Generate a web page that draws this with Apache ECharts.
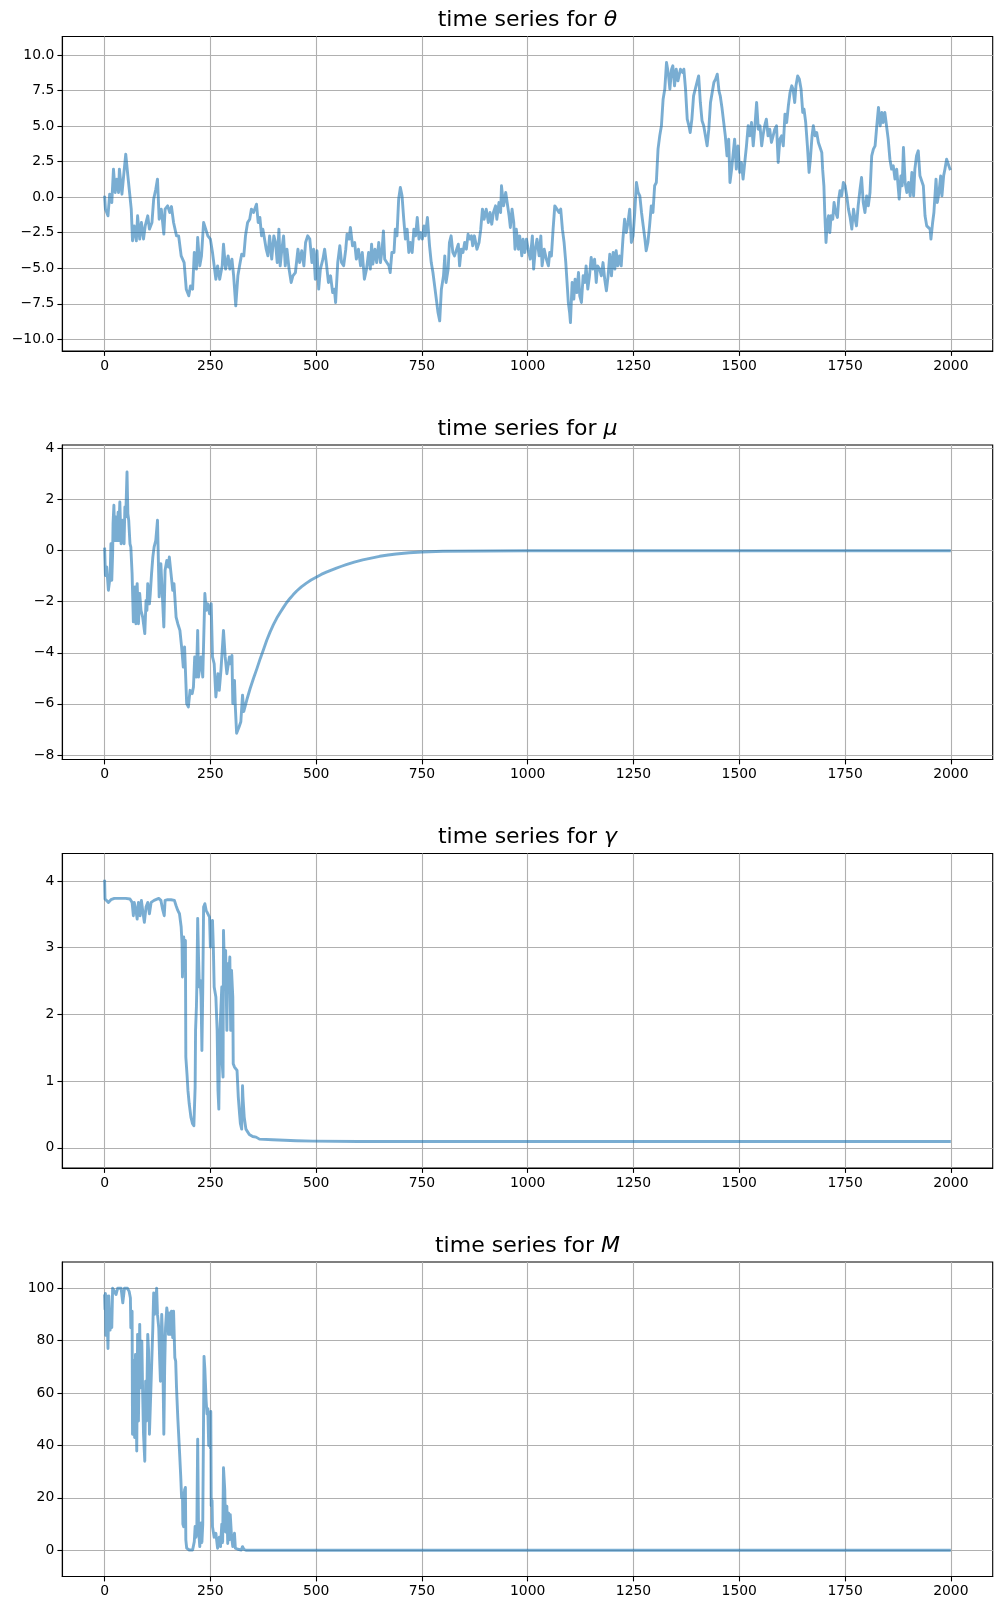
<!DOCTYPE html>
<html>
<head>
<meta charset="utf-8">
<script src="https://cdn.jsdelivr.net/npm/echarts@6/dist/echarts.min.js"></script>
<style>
html,body{margin:0;padding:0;background:#fff;}
#chart{width:1002px;height:1610px;}
</style>
</head>
<body>
<div id="chart"></div>
<script>
// ---------- data (time step, value) ----------
const theta = [[0,0.1],[2,-0.84],[8,-1.31],[12,0.21],[17,-0.38],[21,1.97],[25,0.33],[29,1.27],[33,0.33],[35,1.97],[41,0.21],[45,1.5],[50,3.02],[55,1.5],[59,0.33],[63,-0.84],[66,-3.07],[70,-2.02],[75,-3.07],[78,-1.31],[83,-2.95],[87,-1.78],[92,-2.95],[96,-2.02],[102,-1.31],[106,-2.25],[112,-1.78],[116,-0.14],[121,0.56],[125,1.27],[129,-1.55],[134,-0.84],[140,-2.6],[143,-0.84],[149,-0.61],[154,-1.08],[158,-0.66],[163,-1.78],[170,-2.72],[175,-2.72],[181,-4.13],[188,-4.6],[193,-6.47],[199,-6.94],[203,-6.24],[208,-6.47],[212,-3.89],[217,-5.06],[220,-2.84],[225,-4.83],[229,-4.13],[234,-1.78],[239,-2.25],[244,-2.72],[250,-2.95],[255,-3.89],[259,-4.83],[263,-5.77],[267,-4.83],[272,-5.77],[278,-4.83],[281,-3.31],[286,-5.06],[292,-4.13],[296,-5.06],[301,-4.36],[305,-5.53],[310,-7.64],[315,-5.53],[319,-4.83],[324,-4.01],[329,-4.13],[333,-2.72],[338,-1.78],[343,-1.55],[347,-0.84],[352,-1.08],[359,-0.49],[363,-1.78],[367,-1.43],[371,-2.72],[374,-2.25],[378,-2.95],[382,-3.66],[386,-4.13],[390,-2.72],[395,-4.36],[400,-2.72],[404,-3.19],[408,-4.6],[412,-2.25],[415,-4.83],[419,-3.66],[423,-2.72],[427,-4.83],[431,-3.66],[436,-5.06],[441,-6.0],[445,-5.53],[451,-5.3],[457,-3.66],[461,-4.6],[466,-3.77],[471,-4.83],[475,-3.19],[480,-2.72],[485,-2.95],[490,-4.6],[494,-3.66],[498,-5.77],[502,-3.77],[506,-6.47],[510,-5.06],[516,-4.36],[520,-3.66],[524,-4.6],[529,-6.0],[534,-5.53],[539,-6.71],[543,-6.47],[546,-7.41],[551,-4.6],[556,-3.42],[560,-4.6],[565,-4.83],[570,-3.66],[573,-2.6],[578,-2.95],[581,-2.13],[586,-3.42],[591,-3.19],[595,-4.36],[600,-3.66],[605,-4.83],[609,-3.89],[614,-5.77],[619,-5.06],[624,-3.89],[628,-5.06],
[631,-3.31],[634,-4.71],[639,-3.66],[643,-4.6],[648,-3.19],[652,-4.6],[656,-3.66],[659,-2.37],[662,-4.36],[667,-4.6],[672,-4.83],[675,-5.3],[679,-3.89],[684,-3.89],[687,-2.25],[691,-2.72],[695,-0.14],[699,0.68],[703,0.09],[707,-1.55],[711,-2.95],[715,-2.25],[719,-3.89],[723,-3.19],[727,-3.89],[731,-2.25],[735,-2.72],[739,-1.43],[743,-2.95],[747,-2.49],[751,-2.95],[755,-2.02],[758,-2.72],[763,-1.43],[768,-3.42],[772,-4.6],[776,-5.3],[781,-6.47],[785,-7.41],[788,-8.11],[792,-8.7],[796,-6.47],[801,-5.53],[804,-4.13],[807,-6.0],[812,-5.06],[815,-3.19],[819,-2.72],[823,-3.89],[827,-4.13],[831,-4.13],[836,-3.31],[839,-4.83],[843,-3.66],[847,-3.89],[851,-3.19],[855,-3.66],[859,-2.6],[863,-2.95],[867,-2.72],[870,-3.42],[874,-2.72],[880,-3.66],[885,-3.19],[889,-2.25],[893,-0.84],[897,-1.55],[902,-0.84],[907,-1.78],[911,-1.08],[915,-1.9],[919,-1.08],[924,-0.61],[927,-1.55],[932,-0.38],[936,-1.08],[938,0.8],[943,-0.61],[948,0.33],[952,0.33],[956,-1.31],[959,-2.13],[963,-0.84],[967,-1.78],[970,-3.66],[973,-2.25],[978,-3.66],[981,-2.72],[986,-4.13],[989,-2.95],[993,-3.89],[997,-2.95],[1001,-3.66],[1006,-4.36],[1011,-2.72],[1014,-5.06],[1018,-3.66],[1022,-2.95],[1027,-4.13],[1031,-2.72],[1034,-4.83],[1039,-3.66],[1044,-4.36],[1049,-4.83],[1052,-3.89],[1056,-4.13],[1060,-2.25],[1064,-0.61],[1069,-0.84],[1074,-1.08],[1078,-0.84],[1082,-2.25],[1086,-3.19],[1090,-4.6],[1093,-6.0],[1096,-7.41],[1099,-8.11],[1101,-8.82],[1105,-6.0],[1109,-7.17],[1112,-5.77],[1116,-6.71],[1120,-5.3],[1123,-6.94],[1127,-7.41],[1131,-5.53],[1135,-6.0],[1138,-4.83],[1142,-6.47],[1146,-5.53],[1150,-4.24],[1154,-5.06],[1158,-4.36],[1162,-6.0],[1165,-4.83],[1170,-5.06],[1174,-5.53],[1178,-4.6],[1182,-5.77],[1186,-6.59],[1190,-5.53],[1194,-4.01],[1198,-5.53],[1202,-3.89],[1206,-5.06],[1209,-3.77],[1213,-4.83],[1217,-4.13],[1221,-4.83],[1225,-2.95],[1229,-1.55],[1233,-2.49],[1237,-1.78],[1241,-0.84],[1245,-3.19],[1249,-2.72],[1253,-1.08],[1257,1.03],[1261,0.33],[1265,0.09],[1269,-1.08],[1273,-2.02],[1277,-2.95],[1280,-3.77],[1284,-3.19],[1288,-2.02],[1292,-0.61],[1296,-1.08],[1300,0.8],[1304,1.03],[1308,3.38],[1312,4.31],[1316,5.02],[1320,6.89],[1324,7.6],[1328,9.47],[1332,8.77],[1336,7.6],
[1340,9.0],[1343,9.24],[1347,7.83],[1351,9.0],[1355,8.18],[1361,9.0],[1366,8.77],[1369,9.0],[1373,7.6],[1377,5.49],[1381,5.02],[1384,4.55],[1388,5.49],[1392,7.13],[1396,7.25],[1400,8.07],[1404,8.53],[1408,6.66],[1412,5.37],[1416,5.02],[1420,4.31],[1424,3.61],[1428,4.78],[1432,6.66],[1436,6.66],[1440,8.07],[1444,8.3],[1448,8.65],[1452,7.48],[1455,7.13],[1459,6.31],[1463,6.19],[1467,4.31],[1471,2.91],[1475,4.08],[1478,1.03],[1482,1.97],[1485,2.91],[1489,4.08],[1493,1.97],[1497,3.61],[1501,1.74],[1505,2.44],[1509,1.27],[1513,2.44],[1517,3.61],[1521,5.02],[1525,4.31],[1529,5.25],[1533,3.61],[1537,5.02],[1541,6.66],[1545,4.78],[1549,5.02],[1553,3.61],[1556,4.31],[1560,5.02],[1564,5.49],[1568,4.31],[1572,4.78],[1576,3.85],[1580,4.31],[1584,4.78],[1588,5.02],[1592,2.44],[1596,4.08],[1600,4.31],[1604,3.61],[1608,5.84],[1612,5.25],[1616,6.42],[1620,7.36],[1624,7.83],[1627,7.6],[1631,6.66],[1634,7.83],[1638,8.53],[1642,8.3],[1646,7.6],[1650,5.96],[1653,6.19],[1657,5.25],[1661,3.61],[1665,1.74],[1668,2.67],[1672,4.31],[1675,5.02],[1679,4.31],[1683,4.55],[1687,3.85],[1691,3.85],[1695,3.14],[1697,1.97],[1700,0.8],[1702,-1.08],[1705,-3.19],[1708,-1.78],[1711,-1.31],[1714,-2.49],[1717,-1.31],[1721,-1.55],[1724,-0.38],[1728,-1.08],[1732,-1.43],[1735,-0.14],[1738,0.45],[1742,0.09],[1746,1.03],[1750,0.8],[1754,0.09],[1758,-0.84],[1762,-1.43],[1766,-2.25],[1770,-0.84],[1773,-1.43],[1777,-2.02],[1781,-0.61],[1785,0.45],[1789,1.38],[1793,-0.38],[1797,-1.08],[1801,0.09],[1805,-0.61],[1809,0.33],[1813,2.91],[1817,3.38],[1821,3.61],[1825,5.02],[1829,6.31],[1833,5.02],[1837,5.96],[1840,5.25],[1844,5.96],[1848,5.02],[1852,4.08],[1856,2.67],[1860,1.97],[1864,2.2],[1868,1.27],[1872,1.97],[1876,0.56],[1878,-0.14],[1882,1.5],[1885,0.8],[1888,3.49],[1892,1.03],[1896,0.33],[1900,1.03],[1904,0.09],[1908,1.74],[1912,0.09],[1915,1.97],[1919,2.91],[1923,3.26],[1927,1.5],[1931,1.38],[1935,0.8],[1939,-1.31],[1943,-2.02],[1947,-2.02],[1951,-2.25],[1953,-2.95],[1957,-1.78],[1960,-1.08],[1965,1.27],[1968,-0.38],[1972,0.33],[1976,1.5],[1979,0.09],[1983,1.5],[1986,1.97],[1990,2.67],[1994,2.79],[1998,1.97],[1999,1.9]];

const mu = [[0,0.12],[2,-0.97],[5,-0.64],[9,-1.55],[13,-1.03],[15,0.27],[17,-1.16],[19,-0.12],[20,1.06],[22,1.78],[24,0.4],[27,1.32],[29,0.4],[32,1.51],[33,0.4],[36,1.91],[39,0.27],[43,1.19],[46,0.27],[48,1.71],[50,1.32],[53,3.08],[55,1.45],[57,1.19],[60,0.27],[62,0.14],[65,-0.9],[68,-2.79],[72,-1.42],[74,-2.86],[77,-1.29],[80,-2.86],[83,-1.68],[86,-2.34],[90,-2.6],[95,-3.25],[98,-1.95],[100,-2.34],[102,-1.29],[106,-2.08],[108,-1.68],[111,-0.9],[114,-0.25],[117,0.14],[121,0.4],[125,1.19],[129,-1.81],[133,-0.51],[140,-2.99],[143,-0.77],[147,-0.38],[151,-0.64],[153,-0.25],[157,-0.9],[161,-1.55],[164,-1.29],[169,-2.6],[173,-2.86],[178,-3.12],[182,-3.77],[186,-4.56],[189,-3.77],[194,-5.99],[198,-6.12],[202,-5.47],[207,-5.6],[210,-5.34],[213,-4.16],[217,-4.95],[220,-3.12],[222,-4.95],[228,-4.16],[232,-4.95],[237,-1.68],[240,-2.34],[244,-2.08],[248,-2.47],[252,-2.08],[255,-4.16],[259,-4.43],[263,-5.73],[268,-4.82],[271,-5.47],[275,-4.69],[281,-3.12],[285,-4.16],[289,-4.82],[295,-4.16],[297,-4.43],[301,-4.1],[303,-5.99],[307,-5.08],[309,-6.12],[312,-7.15],[318,-6.9],[322,-6.7],[326,-5.66],[329,-6.3],[336,-5.85],[344,-5.4],[352,-5.0],[360,-4.62],[368,-4.22],[375,-3.9],[383,-3.52],[391,-3.19],[399,-2.9],[407,-2.64],[415,-2.42],[422,-2.24],[430,-2.04],[438,-1.87],[446,-1.72],[454,-1.58],[465,-1.42],[477,-1.27],[488,-1.15],[500,-1.04],[512,-0.93],[524,-0.84],[536,-0.76],[548,-0.68],[560,-0.61],[571,-0.55],[590,-0.45],[610,-0.36],[630,-0.29],[650,-0.22],[670,-0.17],[689,-0.13],[720,-0.08],[750,-0.05],[800,-0.025],[900,-0.01],[1000,0],[2000,0]];

const gamma = [[0,4.02],[1,3.73],[3,3.71],[9,3.68],[15,3.72],[23,3.74],[35,3.74],[50,3.74],[60,3.73],[65,3.68],[68,3.48],[70,3.68],[74,3.56],[77,3.43],[80,3.68],[84,3.48],[87,3.71],[90,3.56],[94,3.38],[98,3.61],[102,3.68],[106,3.51],[110,3.68],[114,3.66],[117,3.71],[121,3.73],[128,3.74],[133,3.71],[137,3.58],[141,3.48],[143,3.71],[149,3.72],[157,3.72],[165,3.71],[169,3.63],[173,3.56],[177,3.51],[181,3.31],[183,3.06],[184,2.56],[187,3.16],[189,2.86],[191,3.11],[192,1.36],[195,1.08],[197,0.86],[200,0.66],[204,0.46],[208,0.36],[211,0.33],[214,0.91],[215,1.76],[217,2.11],[218,2.41],[220,3.44],[222,2.86],[224,2.41],[226,2.51],[228,2.26],[230,1.46],[232,2.36],[234,3.61],[237,3.66],[240,3.56],[244,3.56],[248,3.46],[250,3.01],[252,3.26],[255,3.41],[257,3.01],[259,2.41],[263,2.26],[266,1.76],[268,0.86],[270,0.58],[272,1.66],[274,1.96],[277,2.41],[278,1.26],[280,1.06],[281,3.26],[284,2.51],[286,2.96],[289,1.76],[291,2.76],[293,2.51],[296,2.86],[298,1.76],[300,2.66],[303,2.26],[304,1.26],[307,1.21],[311,1.23],[313,1.16],[316,0.76],[319,0.51],[321,0.36],[324,0.28],[326,0.93],[327,0.76],[330,0.46],[334,0.28],[342,0.2],[350,0.17],[358,0.16],[366,0.13],[397,0.12],[453,0.105],[492,0.1],[600,0.095],[1000,0.095],[2000,0.095]];

const M = [[0,97.6],[1,92],[2,98],[3,82],[5,97],[6,89],[8,77],[10,97],[13,84],[15,91],[17,85],[19,100],[23,100],[27,97.6],[31,100],[35,99.4],[39,100],[43,94.4],[47,100],[50,99.4],[54,100],[58,98.8],[61,96.3],[62,84.9],[65,91.2],[66,44.3],[69,72.2],[71,43],[73,74.7],[76,37.9],[78,82.4],[80,49.3],[83,86.2],[85,62],[88,79.8],[90,59.5],[92,44.3],[95,34],[97,64.5],[99,49.3],[102,82.4],[104,76],[106,44.3],[109,59.5],[111,69.6],[114,84.9],[116,98.2],[118,90],[121,93.8],[123,100],[125,90],[128,84.9],[130,73.5],[132,64.5],[135,90],[137,81.1],[140,44.3],[142,69.6],[144,84.9],[147,92.5],[149,90],[151,82.4],[154,90.6],[156,82.4],[158,91.2],[161,81.1],[163,91.2],[166,73.5],[168,72.2],[170,62],[173,50.6],[175,44.3],[177,38],[180,28],[182,20],[184,22],[185,10],[187,9],[189,23],[191,24],[192,4],[194,0.8],[200,0.1],[208,0.1],[212,3.3],[214,9.1],[216,5],[218,7.8],[220,42.4],[222,8],[225,1.4],[228,10.4],[230,3],[232,10],[235,74],[237,69],[240,57],[242,52],[244,54],[246,40],[248,52],[250,39],[251,53],[252,17],[254,19],[255,9],[259,5],[263,6.5],[267,0.8],[271,5],[274,1.4],[277,10],[279,3],[281,31.5],[284,23],[286,7],[289,16.8],[291,2.6],[293,14.2],[295,4],[297,13.6],[300,5.3],[303,1.4],[307,6.5],[309,0.8],[315,0.4],[323,0.1],[326,1.4],[329,0.4],[334,0],[2000,0]];

const titles = ['θ', 'μ', 'γ', 'M'];
const xTicks = [0, 250, 500, 750, 1000, 1250, 1500, 1750, 2000];
const yTicks = [
  [-10, -7.5, -5, -2.5, 0, 2.5, 5, 7.5, 10],
  [-8, -6, -4, -2, 0, 2, 4],
  [0, 1, 2, 3, 4],
  [0, 20, 40, 60, 80, 100]
];
const yDecimals = [1, 0, 0, 0];
const yLimits = [[-10.82, 11.30], [-8.18, 4.14], [-0.303, 4.413], [-10, 110]];
const xLimits = [-99.95, 2098.95];
const seriesData = [theta, mu, gamma, M];

// ---------- layout ----------
const FONT = 'DejaVu Sans';
const gridLeft = 62.3, gridRight = 9.3, gridH = 314.5;
const gridTops = [36.5, 445.0, 853.5, 1262.0];
const gridColor = '#b0b0b0';
const minus = s => String(s).replace('-', '\u2212');

const grids = [], xAxes = [], yAxes = [], series = [], graphics = [];
for (let i = 0; i < 4; i++) {
  grids.push({left: gridLeft, right: gridRight, top: gridTops[i], height: gridH,
    show: true, borderColor: '#000', borderWidth: 1.1, backgroundColor: 'transparent', containLabel: false});
  xAxes.push({
    type: 'value', gridIndex: i, min: xLimits[0], max: xLimits[1],
    axisLine: {show: true, onZero: false, lineStyle: {color: '#000', width: 1.1}},
    axisTick: {show: true, inside: false, length: 4.9, lineStyle: {color: '#000', width: 1.1}, customValues: xTicks},
    axisLabel: {show: true, color: '#000', fontFamily: FONT, fontSize: 13.9, margin: 8, customValues: xTicks,
      formatter: v => minus(v)},
    splitLine: {show: true, lineStyle: {color: gridColor, width: 1.1}}
  });
  const dec = yDecimals[i];
  yAxes.push({
    type: 'value', gridIndex: i, min: yLimits[i][0], max: yLimits[i][1],
    axisLine: {show: true, onZero: false, lineStyle: {color: '#000', width: 1.1}},
    axisTick: {show: true, inside: false, length: 4.9, lineStyle: {color: '#000', width: 1.1}, customValues: yTicks[i]},
    axisLabel: {show: true, color: '#000', fontFamily: FONT, fontSize: 13.9, margin: 8, customValues: yTicks[i],
      formatter: v => minus(Number(v).toFixed(dec))},
    splitLine: {show: true, lineStyle: {color: gridColor, width: 1.1}}
  });
  series.push({
    type: 'line', xAxisIndex: i, yAxisIndex: i, data: seriesData[i],
    showSymbol: false, symbol: 'none', smooth: false, animation: false,
    lineStyle: {color: '#1f77b4', width: 2.9, opacity: 0.6, join: 'round'},
    itemStyle: {color: '#1f77b4'}, z: 3
  });
  graphics.push({
    type: 'text', x: gridLeft + (1002 - gridLeft - gridRight) / 2, y: gridTops[i] - 16,
    style: {
      text: 'time series for {i|' + titles[i] + '}',
      fontFamily: FONT, fontSize: 22, fill: '#000',
      align: 'center', verticalAlign: 'middle',
      rich: {i: {fontFamily: FONT, fontSize: 22, fontStyle: 'italic', fill: '#000'}}
    }
  });
}

const chart = echarts.init(document.getElementById('chart'), null, {renderer: 'canvas'});
chart.setOption({
  animation: false,
  backgroundColor: '#fff',
  grid: grids, xAxis: xAxes, yAxis: yAxes, series: series,
  graphic: graphics
});
</script>
</body>
</html>
